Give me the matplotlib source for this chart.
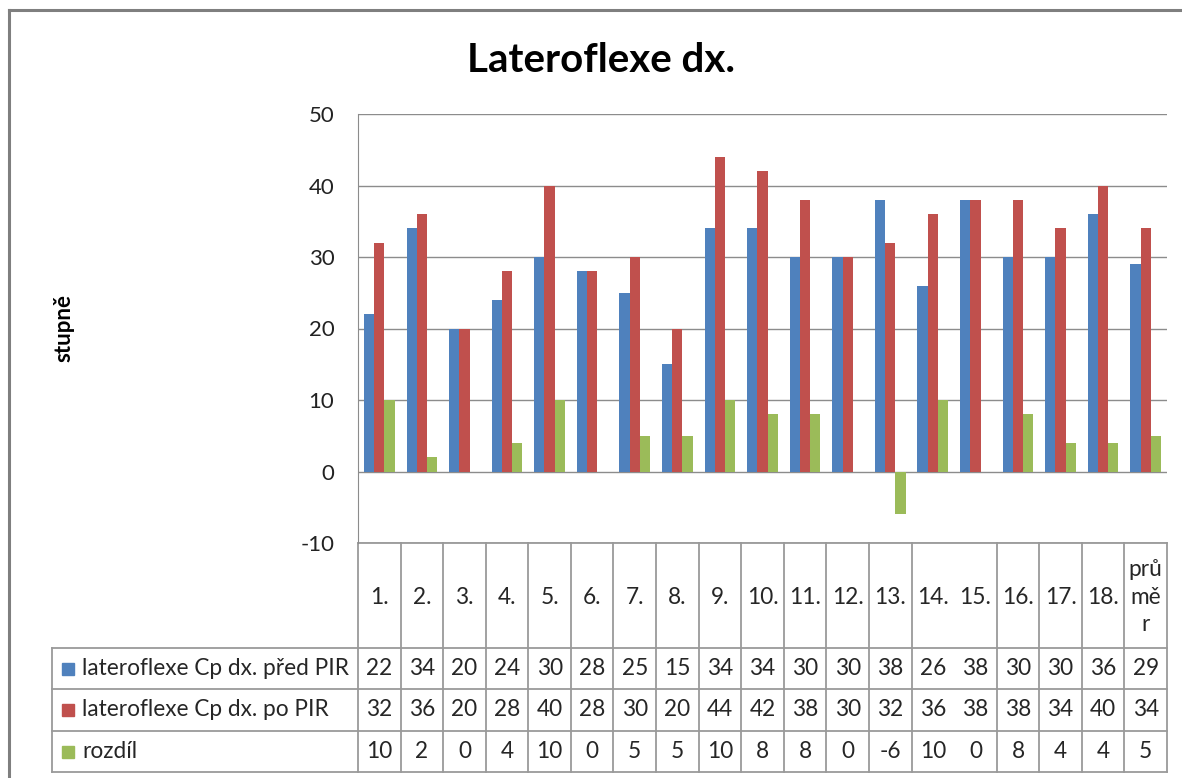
import numpy as np
import matplotlib.pyplot as plt

plt.rcParams['font.family'] = ['Lato', 'DejaVu Sans']
plt.rcParams['axes.unicode_minus'] = False

# --- data ---
categories = ['1.', '2.', '3.', '4.', '5.', '6.', '7.', '8.', '9.', '10.',
              '11.', '12.', '13.', '14.', '15.', '16.', '17.', '18.', 'prů\nmě\nr']
before_pir = [22, 34, 20, 24, 30, 28, 25, 15, 34, 34, 30, 30, 38, 26, 38, 30, 30, 36, 29]
after_pir = [32, 36, 20, 28, 40, 28, 30, 20, 44, 42, 38, 30, 32, 36, 38, 38, 34, 40, 34]
difference = [10, 2, 0, 4, 10, 0, 5, 5, 10, 8, 8, 0, -6, 10, 0, 8, 4, 4, 5]
series_names = ['lateroflexe Cp dx. před PIR', 'lateroflexe Cp dx. po PIR', 'rozdíl']
colors = ['#4F81BD', '#C0504D', '#9BBB59']

W, H = 1182, 778
fig = plt.figure(figsize=(W / 100, H / 100), dpi=100)

# overlay in pixel coordinates for border, title and data table
ov = fig.add_axes([0, 0, 1, 1])
ov.set_xlim(0, W)
ov.set_ylim(H, 0)
ov.axis('off')

grid_c = '#8c8c8c'

# chart frame
ov.plot([9, W + 5], [10, 10], color='#7f7f7f', lw=2.2)
ov.plot([9, 9], [10, H + 5], color='#7f7f7f', lw=2.2)

ov.text(601, 60, 'Lateroflexe dx.', fontsize=29, fontweight='bold',
        ha='center', va='center')
ov.text(64, 328, 'stupně', fontsize=16, fontweight='bold',
        rotation=90, ha='center', va='center')

# plot area
x0, x1 = 358, 1167
y_top, y_bot = 114, 543
ax = fig.add_axes([x0 / W, 1 - y_bot / H, (x1 - x0) / W, (y_bot - y_top) / H])
ax.patch.set_alpha(0)
n = len(categories)
x = np.arange(n)
bw = 0.24
for i, (vals, c) in enumerate(zip([before_pir, after_pir, difference], colors)):
    ax.bar(x + (i - 1) * bw, vals, width=bw, color=c, zorder=3)
ax.set_xlim(-0.5, n - 0.5)
ax.set_ylim(-10, 50)
ax.set_yticks(range(-10, 51, 10))
ax.yaxis.grid(True, color=grid_c, lw=1.0, zorder=0)
ax.set_xticks([])
for s in ['top', 'right', 'bottom']:
    ax.spines[s].set_visible(False)
ax.spines['left'].set_color(grid_c)
ax.tick_params(axis='y', length=0, pad=17, labelsize=16, labelcolor='#222222')

# data table below the plot
col_w = (x1 - x0) / n
row_lines = [543, 648, 689, 731, 772]
lc = '#9a9a9a'
ov.plot([x0, x1], [row_lines[0], row_lines[0]], color=lc, lw=1.3)
for y in row_lines[1:]:
    ov.plot([52, x1], [y, y], color=lc, lw=1.3)
ov.plot([52, 52], [row_lines[1], row_lines[-1]], color=lc, lw=1.3)
for k in range(n + 1):
    if k == 14:
        continue
    xe = x0 + k * col_w
    ov.plot([xe, xe], [row_lines[0], row_lines[-1]], color=lc, lw=1.3)

tc = '#262626'
fs = 16.3
for k, lab in enumerate(categories):
    cx = x0 + (k + 0.5) * col_w
    ov.text(cx, 597, lab, fontsize=fs, ha='center', va='center',
            color=tc, linespacing=1.4)

for r, (name, vals, c) in enumerate(zip(series_names,
                                        [before_pir, after_pir, difference],
                                        colors)):
    cy = (row_lines[r + 1] + row_lines[r + 2]) / 2
    ov.add_patch(plt.Rectangle((62, cy - 6), 12, 12, color=c))
    ov.text(82, cy, name, fontsize=fs, ha='left', va='center', color=tc)
    for k, v in enumerate(vals):
        cx = x0 + (k + 0.5) * col_w
        ov.text(cx, cy, str(v), fontsize=fs, ha='center', va='center', color=tc)

fig.savefig('out.png', dpi=100)
